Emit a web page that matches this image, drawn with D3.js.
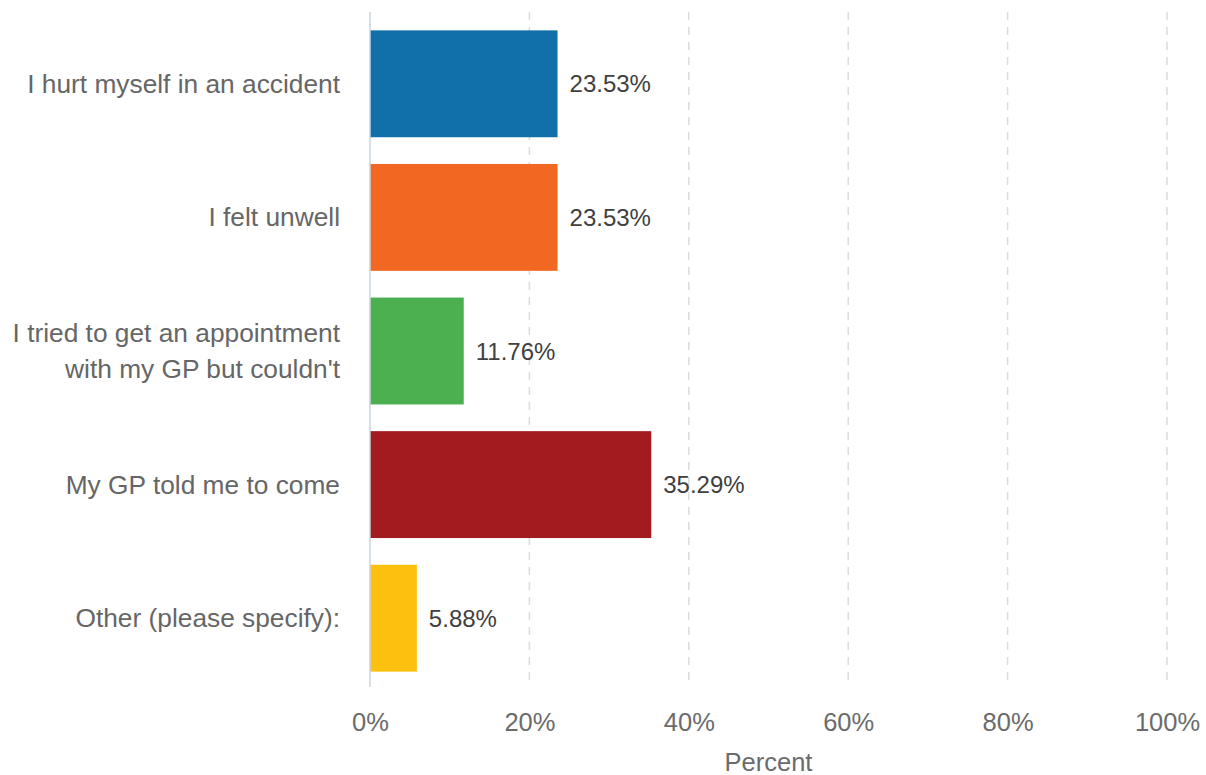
<!DOCTYPE html>
<html>
<head>
<meta charset="utf-8">
<script src="https://cdn.jsdelivr.net/npm/d3@7"></script>
<style>
  html, body { margin: 0; padding: 0; background: #fff; }
  svg { display: block; font-family: "Liberation Sans", Arial, sans-serif; }
</style>
</head>
<body>
<svg id="chart" width="1206" height="775"></svg>
<script>
const categories = [
  "I hurt myself in an accident",
  "I felt unwell",
  "I tried to get an appointment\nwith my GP but couldn't",
  "My GP told me to come",
  "Other (please specify):"
];
const values = [23.53, 23.53, 11.76, 35.29, 5.88];
const colors = ["#1170aa", "#f26722", "#4caf50", "#a11b1f", "#fdc00f"];
const tickValues = [0, 20, 40, 60, 80, 100];
const xTitle = "Percent";

const svg = d3.select("#chart");
const x = d3.scaleLinear().domain([0, 100]).range([370, 1167]);
const y = d3.scaleBand().domain(categories).range([17, 685]).paddingInner(0.2).paddingOuter(0.1);

// gridlines
svg.append("g").selectAll("line")
  .data(tickValues.filter(d => d > 0))
  .join("line")
  .attr("x1", d => x(d)).attr("x2", d => x(d))
  .attr("y1", 12).attr("y2", 687)
  .attr("stroke", "#dcdcdc").attr("stroke-width", 1.5)
  .attr("stroke-dasharray", "8,7");

// bars
svg.append("g").selectAll("rect")
  .data(categories)
  .join("rect")
  .attr("x", x(0))
  .attr("y", d => y(d))
  .attr("width", (d, i) => x(values[i]) - x(0))
  .attr("height", y.bandwidth())
  .attr("fill", (d, i) => colors[i]);

// axis line
svg.append("line")
  .attr("x1", x(0)).attr("x2", x(0))
  .attr("y1", 12).attr("y2", 687)
  .attr("stroke", "#c8d3e0").attr("stroke-width", 1.5);

// value labels
svg.append("g").selectAll("text")
  .data(categories)
  .join("text")
  .attr("x", (d, i) => x(values[i]) + 12)
  .attr("y", d => y(d) + y.bandwidth() / 2)
  .attr("dominant-baseline", "central")
  .attr("font-size", 24)
  .attr("fill", "#404040")
  .text((d, i) => values[i].toFixed(2) + "%");

// category labels
const catG = svg.append("g");
categories.forEach(c => {
  const lines = c.split("\n");
  const cy = y(c) + y.bandwidth() / 2;
  const lh = 36;
  const t = catG.append("text")
    .attr("text-anchor", "end")
    .attr("font-size", 26.3)
    .attr("fill", "#666");
  lines.forEach((ln, j) => {
    t.append("tspan")
      .attr("x", 340)
      .attr("y", cy + (j - (lines.length - 1) / 2) * lh)
      .attr("dominant-baseline", "central")
      .text(ln);
  });
});

// x axis tick labels
const xAxis = d3.axisBottom(x).tickValues(tickValues).tickFormat(d => d + "%").tickSize(0).tickPadding(0);
const ax = svg.append("g").attr("transform", "translate(0,713)").call(xAxis);
ax.select(".domain").remove();
ax.selectAll("text")
  .attr("font-size", 25.5)
  .attr("font-family", "Liberation Sans, Arial, sans-serif")
  .attr("fill", "#6b6b6b");

// axis title
svg.append("text")
  .attr("x", (x(0) + x(100)) / 2)
  .attr("y", 762)
  .attr("text-anchor", "middle")
  .attr("dominant-baseline", "central")
  .attr("font-size", 25.5)
  .attr("fill", "#6b6b6b")
  .text(xTitle);
</script>
</body>
</html>
